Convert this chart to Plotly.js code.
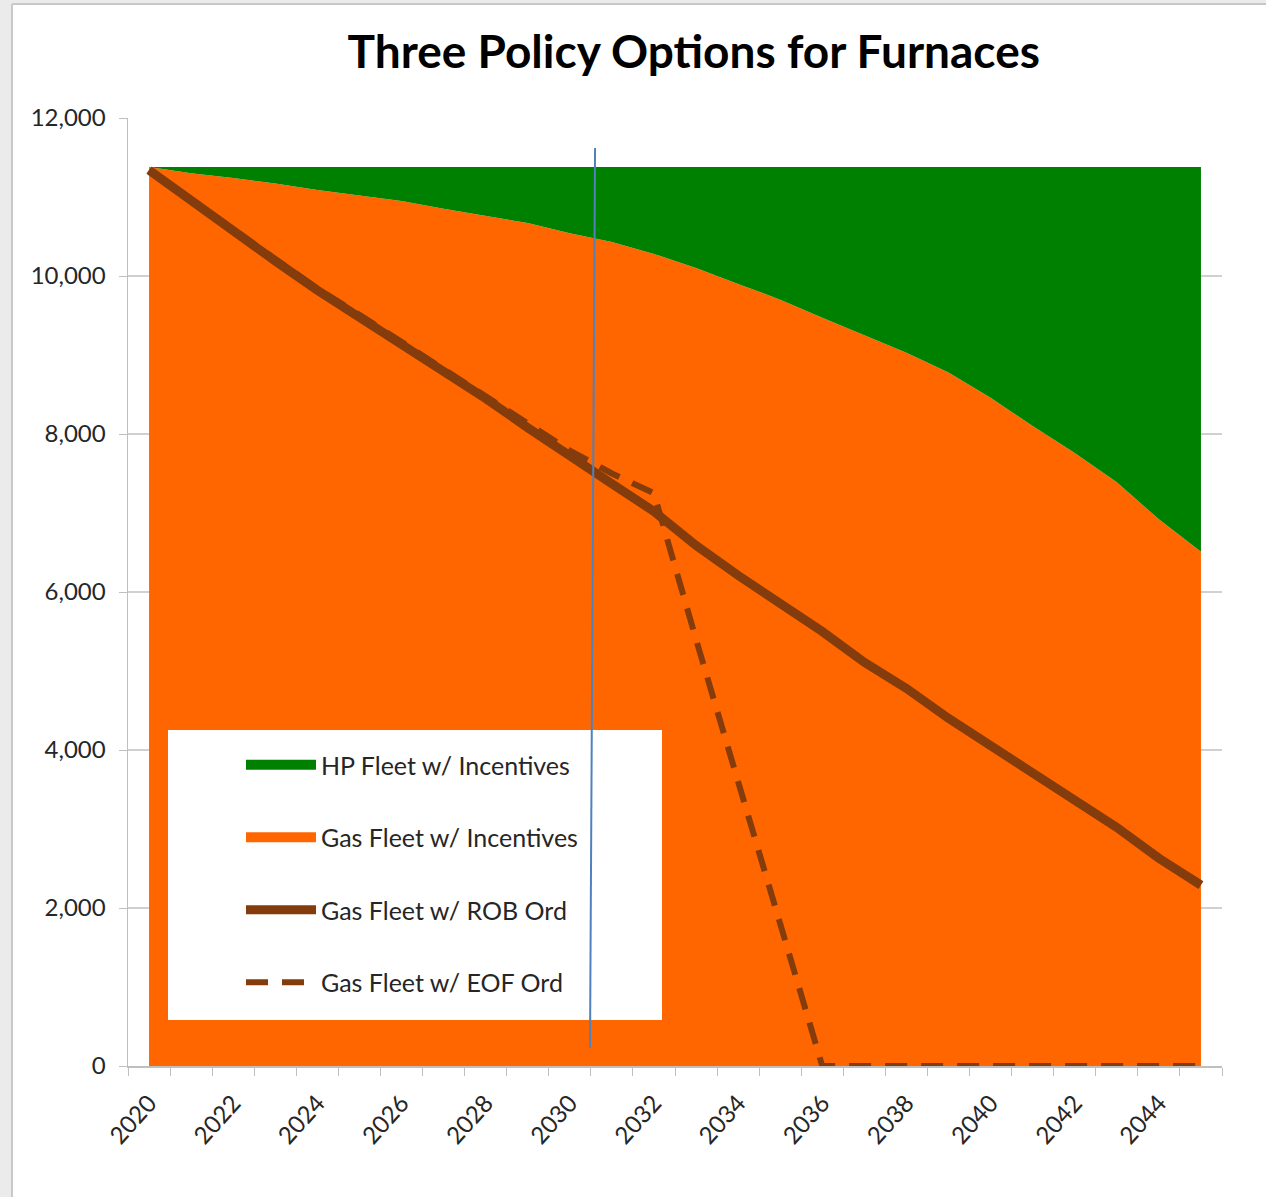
<!DOCTYPE html>
<html>
<head>
<meta charset="utf-8">
<script src="https://cdn.plot.ly/plotly-3.0.1.min.js"></script>
<style>html,body{margin:0;padding:0;background:#fff;}#chart{width:1266px;height:1197px;}</style>
</head>
<body>
<div id="chart"></div>
<script>
// Years (categories)
const years = [2020,2021,2022,2023,2024,2025,2026,2027,2028,2029,2030,2031,2032,2033,2034,2035,2036,2037,2038,2039,2040,2041,2042,2043,2044,2045];
// Gas fleet with incentives (orange area)
const gasIncentives = [11380,11300,11240,11170,11090,11020,10950,10850,10760,10670,10540,10430,10280,10100,9900,9700,9470,9250,9030,8780,8460,8100,7760,7390,6920,6510];
// Heat-pump fleet with incentives (green area, stacked on the gas fleet)
const hpIncentives = [0,80,140,210,290,360,430,530,620,710,840,950,1100,1280,1480,1680,1910,2130,2350,2600,2920,3280,3620,3990,4460,4870];
// Gas fleet with replace-on-burnout ordinance (solid line)
const gasROB = [11340,10950,10570,10190,9820,9480,9140,8790,8450,8080,7710,7370,7020,6590,6210,5860,5500,5110,4780,4400,4050,3690,3350,3020,2630,2290];
// Gas fleet with end-of-flue ordinance (dashed line)
const gasEOF = [11340,10960,10580,10200,9840,9510,9170,8820,8490,8130,7790,7500,7250,5400,3600,1780,0,0,0,0,0,0,0,0,0,0];
// Tick labels
const xTickVals = [2020,2022,2024,2026,2028,2030,2032,2034,2036,2038,2040,2042,2044];
const yTickVals = [0,2000,4000,6000,8000,10000,12000];
// Series names
const names = ["HP Fleet w/ Incentives","Gas Fleet w/ Incentives","Gas Fleet w/ ROB Ord","Gas Fleet w/ EOF Ord"];
// Reference marker (vertical blue line)
const markerLine = {x0: 2030.6, y0: 11620, x1: 2030.48, y1: 230};

const FONT = "Lato, 'Open Sans', sans-serif";
const brown = "#843C0C";
const green = "#008000", orange = "#FF6600";

const traces = [
  // stacked areas (legend entries drawn by swatch traces below)
  {x: years, y: gasIncentives, name: names[1], type: "scatter", mode: "lines",
   stackgroup: "one", line: {width: 0, color: orange}, fillcolor: orange, showlegend: false},
  {x: years, y: hpIncentives, name: names[0], type: "scatter", mode: "lines",
   stackgroup: "one", line: {width: 0, color: green}, fillcolor: green, showlegend: false},
  {x: years, y: gasEOF, name: names[3], type: "scatter", mode: "lines",
   line: {color: brown, width: 6, dash: "22px,14px"},
   legendgroup: "d", legendrank: 4},
  {x: years, y: gasROB, name: names[2], type: "scatter", mode: "lines",
   line: {color: brown, width: 9},
   legendgroup: "c", legendrank: 3},
  // legend swatches for the areas
  {x: [null], y: [null], name: names[0], type: "scatter", mode: "lines",
   line: {color: green, width: 15}, legendgroup: "a", legendrank: 1},
  {x: [null], y: [null], name: names[1], type: "scatter", mode: "lines",
   line: {color: orange, width: 12}, legendgroup: "b", legendrank: 2}
];

// plot area pixel geometry helpers (for frame decorations only)
const L = 128, R = 1222, T = 118, B = 1066;
const px = v => (v - L) / (R - L);
const py = v => (B - v) / (B - T);

const layout = {
  width: 1266, height: 1197,
  margin: {l: L, r: 1266 - R, t: T, b: 1197 - B},
  paper_bgcolor: "#ffffff", plot_bgcolor: "#ffffff",
  font: {family: FONT, color: "#262626"},
  title: {text: "<b>Three Policy Options for Furnaces</b>", font: {family: FONT, size: 46, color: "#000"},
          x: 0.548, xanchor: "center", y: 0.957, yanchor: "middle"},
  showlegend: true,
  legend: {x: px(241), y: py(742), xanchor: "left", yanchor: "top",
           bgcolor: "rgba(0,0,0,0)", font: {family: FONT, size: 25, color: "#262626"},
           itemwidth: 70, traceorder: "grouped", tracegroupgap: 37},
  xaxis: {range: [2019.5, 2045.5], tickmode: "array", tickvals: xTickVals,
          ticktext: xTickVals.map(String), tickangle: -48, ticks: "", showgrid: false,
          zeroline: false, showline: true, linecolor: "#bfbfbf", linewidth: 1.5,
          tickfont: {family: FONT, size: 24, color: "#262626"}, ticklabelstandoff: 12,
          minor: {tick0: 2019.5, dtick: 1, ticks: "outside", ticklen: 8, tickcolor: "#bfbfbf", showgrid: false},
          fixedrange: true},
  yaxis: {range: [0, 12000], tickmode: "array", tickvals: yTickVals, tickformat: ",",
          ticks: "outside", ticklen: 8, tickcolor: "#bfbfbf", showgrid: true,
          gridcolor: "#d0d0d0", gridwidth: 1.5, zeroline: false, showline: true,
          linecolor: "#bfbfbf", linewidth: 1.5, tickfont: {family: FONT, size: 24, color: "#262626"},
          ticklabelstandoff: 8, fixedrange: true},
  shapes: [
    // screenshot frame (outside chart)
    {type: "rect", xref: "paper", yref: "paper", x0: px(0), x1: px(12), y0: py(1197), y1: py(0),
     fillcolor: "#ebebeb", line: {width: 0}, layer: "below"},
    {type: "rect", xref: "paper", yref: "paper", x0: px(0), x1: px(1266), y0: py(4), y1: py(0),
     fillcolor: "#ebebeb", line: {width: 0}, layer: "below"},
    {type: "line", xref: "paper", yref: "paper", x0: px(12), x1: px(12), y0: py(1197), y1: py(4),
     line: {color: "#c8c8c8", width: 2}, layer: "below"},
    {type: "line", xref: "paper", yref: "paper", x0: px(12), x1: px(1266), y0: py(4), y1: py(4),
     line: {color: "#c8c8c8", width: 2}, layer: "below"},
    // legend background
    {type: "rect", xref: "paper", yref: "paper", x0: px(168), x1: px(662), y0: py(1020), y1: py(730),
     fillcolor: "#ffffff", line: {width: 0}, layer: "above"},
    // vertical marker line
    {type: "line", xref: "x", yref: "y", x0: markerLine.x0, y0: markerLine.y0, x1: markerLine.x1, y1: markerLine.y1,
     line: {color: "#4F81BD", width: 2}, layer: "above"}
  ]
};

Plotly.newPlot("chart", traces, layout, {displayModeBar: false, staticPlot: true});
</script>
</body>
</html>
